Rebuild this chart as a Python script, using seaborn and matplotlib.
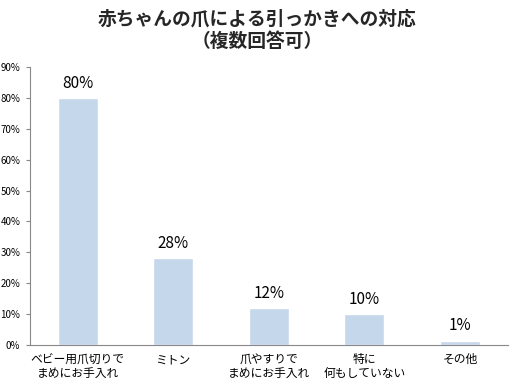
import numpy as np
import pandas as pd
import matplotlib
matplotlib.use("Agg")
import matplotlib.pyplot as plt
import seaborn as sns

# data
categories = ["ベビー用爪切りで\nまめにお手入れ", "ミトン", "爪やすりで\nまめにお手入れ", "特に\n何もしていない", "その他"]
values = [80, 28, 12, 10, 1.4]
value_labels = ["80%", "28%", "12%", "10%", "1%"]
y_ticks = [0, 10, 20, 30, 40, 50, 60, 70, 80, 90]

sns.set_style("white")
plt.rcParams['font.family'] = ['Noto Sans CJK JP', 'DejaVu Sans']

df = pd.DataFrame({"cat": categories, "val": values})

fig = plt.figure(figsize=(5.15, 3.85), dpi=100)
ax = fig.add_axes([0.058, 0.104, 0.928, 0.722])

sns.barplot(data=df, x="cat", y="val", color="#c5d7eb", width=0.42,
            saturation=1, ax=ax)

# value labels above bars
for i, (v, lab) in enumerate(zip(values, value_labels)):
    ax.text(i, v + 2.0, lab, ha="center", va="bottom", fontsize=11, color="black")

ax.set_ylim(0, 90)
ax.set_xlim(-0.5, len(categories) - 0.5)
ax.set_yticks(y_ticks)
ax.set_yticklabels([f"{t}%" for t in y_ticks], fontsize=7, color="black")
ax.tick_params(axis="x", labelsize=8.5, labelcolor="black", length=0, pad=6)
ax.set_xticks(np.arange(-0.5, len(categories), 1.0), minor=True)
ax.tick_params(axis="x", which="minor", length=4, color="#888888", direction="out")
ax.tick_params(axis="y", length=3, color="#888888", direction="out", left=True, pad=4)
ax.set_xlabel("")
ax.set_ylabel("")

sns.despine(ax=ax, top=True, right=True)
for s in ["left", "bottom"]:
    ax.spines[s].set_color("#888888")
    ax.spines[s].set_linewidth(0.8)

fig.suptitle("赤ちゃんの爪による引っかきへの対応\n（複数回答可）", fontsize=13.5,
             fontweight="bold", y=0.975, linespacing=1.25)

fig.savefig("out.png", dpi=100)
